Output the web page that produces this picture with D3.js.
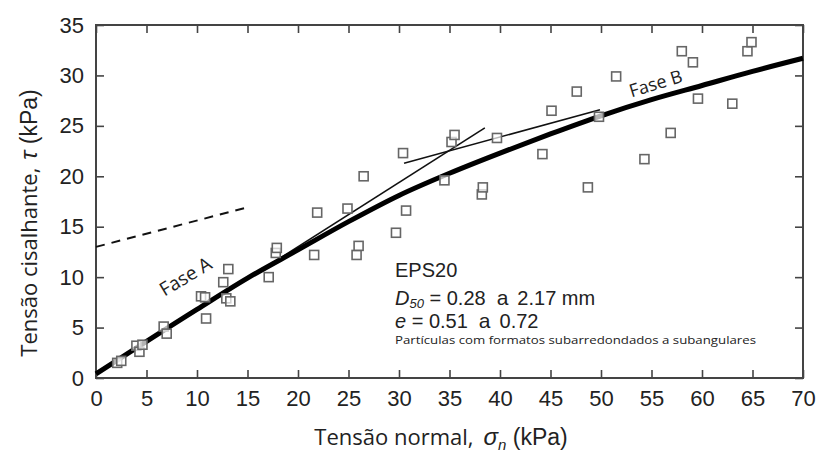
<!DOCTYPE html>
<html>
<head>
<meta charset="utf-8">
<script src="https://cdn.jsdelivr.net/npm/d3@7"></script>
<style>
  body { margin: 0; background: #fff; }
  svg { display: block; }
</style>
</head>
<body>
<svg id="chart" width="818" height="452"></svg>
<script>
// pontos medidos (tensão normal x tensão cisalhante), kPa
var sigmaN = [2.1, 2.5, 4.0, 4.3, 4.6, 6.7, 7.0, 10.4, 10.8, 10.9, 12.6, 12.9, 13.1, 13.3,
  17.1, 17.8, 17.9, 21.6, 21.9, 24.9, 25.8, 26.0, 26.5, 29.7, 30.4, 30.7, 34.5, 35.2, 35.5,
  38.2, 38.3, 39.7, 44.2, 45.1, 47.6, 48.7, 49.8, 51.5, 54.3, 56.9, 58.0, 59.1, 59.6, 63.0,
  64.5, 64.9];
var tau = [1.5, 1.7, 3.2, 2.6, 3.3, 5.1, 4.4, 8.1, 8.0, 5.9, 9.5, 7.9, 10.8, 7.6,
  10.0, 12.4, 12.9, 12.2, 16.4, 16.8, 12.2, 13.1, 20.0, 14.4, 22.3, 16.6, 19.6, 23.4, 24.1,
  18.2, 18.9, 23.8, 22.2, 26.5, 28.4, 18.9, 25.9, 29.9, 21.7, 24.3, 32.4, 31.3, 27.7, 27.2,
  32.4, 33.3];

// envoltória curva (linha grossa)
var curveX = [0, 10, 15, 20, 25, 30, 35, 40, 45, 50, 55, 60, 65, 70];
var curveY = [0.4, 6.8, 9.9, 12.7, 15.5, 18.1, 20.3, 22.3, 24.2, 26.0, 27.6, 29.0, 30.4, 31.7];

// retas das fases A e B
var faseAX = [17, 38.5];
var faseAY = [11.1, 24.8];
var faseBX = [30.5, 49.9];
var faseBY = [21.3, 26.6];
var tracejX = [0, 15.3];
var tracejY = [13.0, 17.0];

var xTicks = [0, 5, 10, 15, 20, 25, 30, 35, 40, 45, 50, 55, 60, 65, 70];
var yTicks = [0, 5, 10, 15, 20, 25, 30, 35];

var svg = d3.select("#chart");
var m = {left: 96, top: 25, right: 15, bottom: 74};
var w = 818 - m.left - m.right, h = 452 - m.top - m.bottom;

var x = d3.scaleLinear().domain([0, 70]).range([0, w]);
var y = d3.scaleLinear().domain([0, 35]).range([h, 0]);

var g = svg.append("g").attr("transform", "translate(" + m.left + "," + m.top + ")");

var axisColor = "#444";
var tickFont = "Liberation Sans, Arial, sans-serif";

// eixos com marcas para dentro
function styleAxis(sel, showLabels) {
  sel.select(".domain").remove();
  sel.selectAll(".tick line").attr("stroke", axisColor).attr("stroke-width", 1.6);
  sel.selectAll(".tick text")
    .attr("fill", "#222")
    .style("font-family", tickFont)
    .style("font-size", "22px");
  if (!showLabels) sel.selectAll(".tick text").remove();
}

g.append("g").attr("transform", "translate(0," + h + ")")
  .call(d3.axisBottom(x).tickValues(xTicks).tickSizeInner(-8).tickPadding(12))
  .call(styleAxis, true);
g.append("g")
  .call(d3.axisTop(x).tickValues(xTicks).tickSizeInner(-8))
  .call(styleAxis, false);
g.append("g")
  .call(d3.axisLeft(y).tickValues(yTicks).tickSizeInner(-8).tickPadding(12))
  .call(styleAxis, true);
g.append("g").attr("transform", "translate(" + w + ",0)")
  .call(d3.axisRight(y).tickValues(yTicks).tickSizeInner(-8))
  .call(styleAxis, false);

g.append("rect")
  .attr("width", w).attr("height", h)
  .attr("fill", "none").attr("stroke", axisColor).attr("stroke-width", 2);

var line = d3.line().x(function(d) { return x(d[0]); }).y(function(d) { return y(d[1]); });

// tracejada
g.append("path")
  .datum(d3.zip(tracejX, tracejY))
  .attr("d", line)
  .attr("fill", "none").attr("stroke", "#111").attr("stroke-width", 2)
  .attr("stroke-dasharray", "9,7");

// retas finas
[[faseAX, faseAY], [faseBX, faseBY]].forEach(function(r) {
  g.append("path")
    .datum(d3.zip(r[0], r[1]))
    .attr("d", line)
    .attr("fill", "none").attr("stroke", "#111").attr("stroke-width", 1.6);
});

// envoltória grossa
g.append("path")
  .datum(d3.zip(curveX, curveY))
  .attr("d", line.curve(d3.curveMonotoneX))
  .attr("fill", "none").attr("stroke", "#000").attr("stroke-width", 5);

// pontos
g.selectAll("rect.pt")
  .data(d3.zip(sigmaN, tau))
  .join("rect")
  .attr("class", "pt")
  .attr("x", function(d) { return x(d[0]) - 4.5; })
  .attr("y", function(d) { return y(d[1]) - 4.5; })
  .attr("width", 9).attr("height", 9)
  .attr("fill", "#fff").attr("fill-opacity", 0.7)
  .attr("stroke", "#666").attr("stroke-width", 1.6);

// rótulos das fases
var calib = "Open Sans, Noto Sans, sans-serif";
g.append("text")
  .attr("transform", "translate(" + x(9.2) + "," + y(9.5) + ") rotate(-31)")
  .attr("text-anchor", "middle")
  .style("font-family", calib).style("font-size", "19px").attr("fill", "#222")
  .text("Fase A");
g.append("text")
  .attr("transform", "translate(" + x(55.6) + "," + y(28.6) + ") rotate(-17)")
  .attr("text-anchor", "middle")
  .style("font-family", calib).style("font-size", "18px").attr("fill", "#222")
  .text("Fase B");

// anotação
var ann = g.append("g").attr("fill", "#222").style("font-family", tickFont);
ann.append("text").attr("x", 299).attr("y", 252).style("font-size", "20px").text("EPS20");
var t2 = ann.append("text").attr("x", 299).attr("y", 280).style("font-size", "20px");
t2.append("tspan").style("font-style", "italic").text("D");
t2.append("tspan").style("font-style", "italic").style("font-size", "13px").attr("dy", 3).text("50");
t2.append("tspan").attr("dy", -3).text(" = 0.28");
t2.append("tspan").attr("dx", 11).style("font-size", "21px").text("a");
t2.append("tspan").attr("dx", 9).text("2.17 mm");
var t3 = ann.append("text").attr("x", 299).attr("y", 303).style("font-size", "20px");
t3.append("tspan").style("font-style", "italic").text("e");
t3.append("tspan").text(" = 0.51");
t3.append("tspan").attr("dx", 11).style("font-size", "21px").text("a");
t3.append("tspan").attr("dx", 9).text("0.72");
ann.append("text").attr("x", 299).attr("y", 319)
  .style("font-family", calib).style("font-size", "11px")
  .attr("textLength", 361).attr("lengthAdjust", "spacingAndGlyphs")
  .text("Partículas com formatos subarredondados a subangulares");

// títulos dos eixos
var xt = svg.append("text")
  .attr("x", 441).attr("y", 445)
  .attr("text-anchor", "middle").attr("fill", "#222")
  .style("font-family", calib).style("font-size", "22px");
xt.append("tspan").text("Tensão normal,");
xt.append("tspan").attr("dx", 10).style("font-style", "italic").style("font-family", tickFont).style("font-size", "24px").text("σ");
xt.append("tspan").style("font-style", "italic").style("font-family", tickFont).style("font-size", "15px").attr("dy", 5).text("n");
xt.append("tspan").attr("dy", -5).style("font-family", tickFont).style("font-size", "23px").text(" (kPa)");

var yt = svg.append("text")
  .attr("transform", "translate(37,223) rotate(-90)")
  .attr("text-anchor", "middle").attr("fill", "#222")
  .style("font-family", calib).style("font-size", "22px");
yt.append("tspan").text("Tensão cisalhante,");
yt.append("tspan").attr("dx", 8).style("font-style", "italic").style("font-family", tickFont).style("font-size", "24px").text("τ");
yt.append("tspan").style("font-family", tickFont).style("font-size", "23px").text(" (kPa)");
</script>
</body>
</html>
